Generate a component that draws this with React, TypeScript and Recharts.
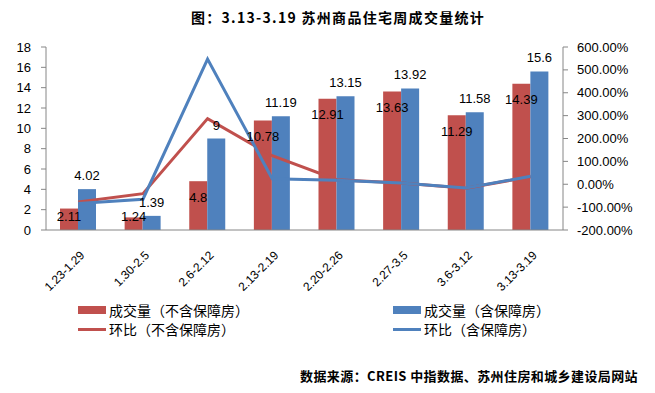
import React from 'react';
import { ComposedChart, Bar, Line, XAxis, YAxis, LabelList } from 'recharts';

const categories = ['1.23-1.29', '1.30-2.5', '2.6-2.12', '2.13-2.19', '2.20-2.26', '2.27-3.5', '3.6-3.12', '3.13-3.19'];
const volumeExcl = [2.11, 1.24, 4.8, 10.78, 12.91, 13.63, 11.29, 14.39];
const volumeIncl = [4.02, 1.39, 9, 11.19, 13.15, 13.92, 11.58, 15.6];
const momExcl = [-78, -41.2, 287.1, 124.6, 19.8, 5.6, -17.2, 33];
const momIncl = [-84, -65.4, 547.5, 24.3, 17.5, 5.9, -16.8, 34.7];
const leftTicks = [0, 2, 4, 6, 8, 10, 12, 14, 16, 18];
const rightTicks = [-200, -100, 0, 100, 200, 300, 400, 500, 600];

const RED = '#C0504D';
const BLUE = '#4F81BD';
const AXIS = '#868686';
const NUM_FONT = '"Liberation Sans", Arial, sans-serif';
const CJK_FONT = '"Noto Sans CJK SC", "Noto Sans", sans-serif';

const data = categories.map((c, i) => ({
  name: c,
  excl: volumeExcl[i],
  incl: volumeIncl[i],
  momExcl: momExcl[i],
  momIncl: momIncl[i],
}));

const XTick = (props: any) => {
  const { x, y, payload } = props;
  const ax = x + 7;
  const ay = y + 26;
  return (
    <text x={ax} y={ay} transform={`rotate(-45, ${ax}, ${ay})`} textAnchor="end" fontSize={12} fontFamily={NUM_FONT} fill="#000">
      {payload.value}
    </text>
  );
};

const RedLabel = (props: any) => {
  const { x, y, width, height, value } = props;
  const cy = Math.min(y + 16, y + height - 14);
  return (
    <text x={x + width / 2} y={cy} dy="0.35em" textAnchor="middle" fontSize={13} fontFamily={NUM_FONT} fill="#000">
      {value}
    </text>
  );
};

const legendText: React.CSSProperties = {
  position: 'absolute',
  fontFamily: CJK_FONT,
  fontSize: 14,
  lineHeight: '16px',
  color: '#000',
  whiteSpace: 'nowrap',
};

export default function App() {
  return (
    <div style={{ position: 'absolute', left: 0, top: 0, width: 655, height: 393, background: '#fff', overflow: 'hidden' }}>
      <div style={{ position: 'absolute', left: 0, width: 676, top: 8, textAlign: 'center', fontFamily: CJK_FONT, fontWeight: 'bold', fontSize: 14, letterSpacing: 1.3, lineHeight: '18px', color: '#000', whiteSpace: 'nowrap' }}>
        图：3.13-3.19 苏州商品住宅周成交量统计
      </div>
      <ComposedChart
        width={655}
        height={393}
        data={data}
        margin={{ top: 47, right: 0, bottom: 133, left: 0 }}
        barGap={0}
        style={{ position: 'absolute', left: 0, top: 0 }}
      >
        <XAxis dataKey="name" height={30} tick={<XTick />} tickLine={false} tickSize={0} tickMargin={0} stroke={AXIS} interval={0} />
        <YAxis
          yAxisId="left"
          orientation="left"
          width={46}
          domain={[0, 18]}
          ticks={leftTicks}
          stroke={AXIS}
          tickSize={5}
          tickMargin={10}
          tick={{ fontSize: 13, fill: '#000', fontFamily: NUM_FONT }}
          interval={0}
        />
        <YAxis
          yAxisId="right"
          orientation="right"
          width={92}
          domain={[-200, 600]}
          ticks={rightTicks}
          stroke={AXIS}
          tickSize={5}
          tickMargin={9}
          tick={{ fontSize: 13, fill: '#000', fontFamily: NUM_FONT }}
          tickFormatter={(v: number) => v.toFixed(2) + '%'}
          interval={0}
        />
        <Bar yAxisId="left" dataKey="excl" fill={RED} barSize={18} isAnimationActive={false}>
          <LabelList dataKey="excl" content={<RedLabel />} />
        </Bar>
        <Bar yAxisId="left" dataKey="incl" fill={BLUE} barSize={18} isAnimationActive={false}>
          <LabelList dataKey="incl" position="top" offset={9} fontSize={13} fill="#000" fontFamily={NUM_FONT} />
        </Bar>
        <Line yAxisId="right" type="linear" dataKey="momExcl" stroke={RED} strokeWidth={3} dot={false} isAnimationActive={false} />
        <Line yAxisId="right" type="linear" dataKey="momIncl" stroke={BLUE} strokeWidth={3} dot={false} isAnimationActive={false} />
      </ComposedChart>

      <div style={{ position: 'absolute', left: 78, top: 306, width: 28, height: 8, background: RED }} />
      <div style={{ ...legendText, left: 109, top: 302 }}>成交量（不含保障房）</div>
      <div style={{ position: 'absolute', left: 393, top: 306, width: 28, height: 8, background: BLUE }} />
      <div style={{ ...legendText, left: 424, top: 302 }}>成交量（含保障房）</div>

      <div style={{ position: 'absolute', left: 78, top: 328, width: 28, height: 2.5, background: RED }} />
      <div style={{ ...legendText, left: 109, top: 321 }}>环比（不含保障房）</div>
      <div style={{ position: 'absolute', left: 393, top: 328, width: 28, height: 2.5, background: BLUE }} />
      <div style={{ ...legendText, left: 424, top: 321 }}>环比（含保障房）</div>

      <div style={{ position: 'absolute', right: 17, top: 367, fontFamily: CJK_FONT, fontWeight: 'bold', fontSize: 13, letterSpacing: 0.4, lineHeight: '18px', color: '#000', whiteSpace: 'nowrap' }}>
        数据来源：CREIS 中指数据、苏州住房和城乡建设局网站
      </div>
    </div>
  );
}
